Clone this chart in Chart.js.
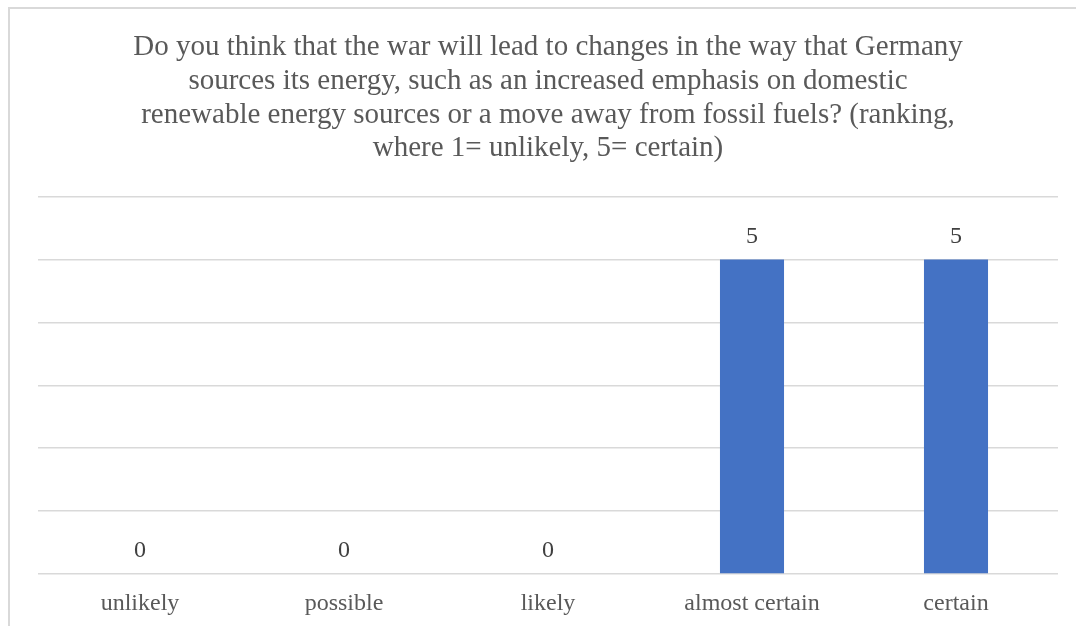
<!DOCTYPE html>
<html>
<head>
<meta charset="utf-8">
<script src="https://cdn.jsdelivr.net/npm/chart.js@4"></script>
<style>
    html, body { margin: 0; padding: 0; background: #fff; }
    #wrap { position: relative; width: 1076px; height: 626px; overflow: hidden; }
    #frame {
        position: absolute; left: 8px; top: 7px; width: 1100px; height: 700px;
        border-left: 2px solid #d9d9d9; border-top: 2px solid #d9d9d9;
        pointer-events: none;
    }
</style>
</head>
<body>
<div id="wrap">
    <canvas id="mycanvas" width="1076" height="626"></canvas>
    <div id="frame"></div>
</div>
<script>
var titleLines = [
    "Do you think that the war will lead to changes in the way that Germany",
    "sources its energy, such as an increased emphasis on domestic",
    "renewable energy sources or a move away from fossil fuels? (ranking,",
    "where 1= unlikely, 5= certain)"
];
var categories = ["unlikely", "possible", "likely", "almost certain", "certain"];
var counts = [0, 0, 0, 5, 5];
var yTicks = [0, 1, 2, 3, 4, 5, 6];

var serif = "'Liberation Serif', 'Times New Roman', serif";

// writes each bar's value just above its top
var valueLabels = {
    id: "valueLabels",
    afterDatasetsDraw: function (chart) {
        var ctx = chart.ctx;
        var meta = chart.getDatasetMeta(0);
        ctx.save();
        ctx.font = "24px " + serif;
        ctx.fillStyle = "#404040";
        ctx.textAlign = "center";
        ctx.textBaseline = "middle";
        meta.data.forEach(function (bar, i) {
            ctx.fillText(String(counts[i]), bar.x, bar.y - 23);
        });
        ctx.restore();
    }
};

var ctx = document.getElementById("mycanvas");

var barGraph = new Chart(ctx, {
    type: 'bar',
    data: {
        labels: categories,
        datasets: [{
            label: "Responses",
            backgroundColor: "#4472c4",
            data: counts,
            barPercentage: 0.5,
            categoryPercentage: 0.628
        }]
    },
    plugins: [valueLabels],
    options: {
        responsive: false,
        animation: false,
        layout: {
            padding: { left: 38, right: 18, top: 0, bottom: 0 }
        },
        plugins: {
            legend: { display: false },
            tooltip: { enabled: false },
            title: {
                display: true,
                text: titleLines,
                color: "#595959",
                font: { family: serif, size: 29, weight: 'normal', lineHeight: 1.16 },
                padding: { top: 31, bottom: 31 }
            }
        },
        scales: {
            x: {
                grid: { display: false, drawTicks: false },
                border: { display: false },
                ticks: {
                    color: "#595959",
                    font: { family: serif, size: 24, lineHeight: 1.2 },
                    padding: 15
                },
                afterFit: function (scale) {
                    scale.height = 52;
                }
            },
            y: {
                min: yTicks[0],
                max: yTicks[yTicks.length - 1],
                grid: { color: "#d9d9d9", lineWidth: 1.5, drawTicks: false },
                border: { display: false },
                ticks: { display: false, stepSize: 1 }
            }
        }
    }
});
</script>
</body>
</html>
